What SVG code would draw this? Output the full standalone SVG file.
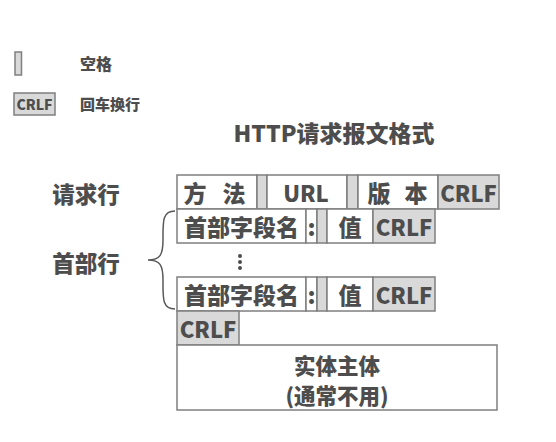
<svg xmlns="http://www.w3.org/2000/svg" width="556" height="442" viewBox="0 0 556 442">
<style>
text{font-family:"Noto Sans CJK SC","Noto Sans",sans-serif;font-weight:900;fill:#4d4d4d;text-anchor:middle;dominant-baseline:central}
.w{fill:#ffffff;stroke:#7f7f7f;stroke-width:1.5}
.g{fill:#d9d9d9;stroke:#7f7f7f;stroke-width:1.5}
.b{font-size:23px}
.c{font-size:22px}
.l{font-size:22.5px}
.s{font-size:16px;text-anchor:start}
</style>
<rect width="556" height="442" fill="#ffffff"/>
<g id="legend">
<rect class="g" x="15" y="52" width="6.5" height="23"/>
<text class="s" x="80" y="63">空格</text>
<rect class="g" x="14" y="93" width="41" height="22"/>
<text x="34.5" y="104" style="font-size:14px">CRLF</text>
<text class="s" x="80" y="103" style="font-size:15px">回车换行</text>
</g>
<g id="title"><text x="334" y="132" style="font-size:23px">HTTP请求报文格式</text></g>
<g id="label-request"><text class="l" x="86" y="193">请求行</text></g>
<g id="label-header"><text class="l" x="86" y="262">首部行</text></g>
<g id="request-line">
<rect class="w" x="177" y="175" width="80" height="34"/><text class="b" x="195" y="192">方</text><text class="b" x="234" y="192">法</text>
<rect class="g" x="257" y="175" width="10" height="34"/>
<rect class="w" x="267" y="175" width="80" height="34"/><text class="c" x="306" y="192">URL</text>
<rect class="g" x="347" y="175" width="11" height="34"/>
<rect class="w" x="358" y="175" width="80" height="34"/><text class="b" x="379" y="192">版</text><text class="b" x="416" y="192">本</text>
<rect class="g" x="438" y="175" width="61" height="34"/><text class="c" x="468.5" y="192">CRLF</text>
</g>
<g id="header-1">
<rect class="w" x="177" y="209" width="129" height="34"/><text class="b" x="241.5" y="226">首部字段名</text>
<rect class="w" x="306" y="209" width="11" height="34"/><text class="b" x="311.5" y="226">:</text>
<rect class="g" x="317" y="209" width="10" height="34"/>
<rect class="w" x="327" y="209" width="46" height="34"/><text class="b" x="350" y="226">值</text>
<rect class="g" x="373" y="209" width="62" height="34"/><text class="c" x="404" y="226">CRLF</text>
</g>
<g id="ellipsis">
<circle cx="240" cy="256" r="2" fill="#4d4d4d"/>
<circle cx="240" cy="262" r="2" fill="#4d4d4d"/>
<circle cx="240" cy="268" r="2" fill="#4d4d4d"/>
</g>
<g id="header-n">
<rect class="w" x="177" y="277" width="129" height="34"/><text class="b" x="241.5" y="294">首部字段名</text>
<rect class="w" x="306" y="277" width="11" height="34"/><text class="b" x="311.5" y="294">:</text>
<rect class="g" x="317" y="277" width="10" height="34"/>
<rect class="w" x="327" y="277" width="46" height="34"/><text class="b" x="350" y="294">值</text>
<rect class="g" x="373" y="277" width="62" height="34"/><text class="c" x="404" y="294">CRLF</text>
</g>
<g id="blank-line">
<rect class="g" x="177" y="311" width="62" height="34"/><text class="c" x="208" y="328">CRLF</text>
</g>
<g id="body">
<rect class="w" x="177" y="345" width="320" height="65"/>
<text x="337" y="364" style="font-size:21.5px">实体主体</text>
<text x="337" y="394" style="font-size:21.5px">(通常不用)</text>
</g>
<g id="connectors">
<path d="M175,211 C162,211 163,222 163,240 C163,255 160,260 148,260 C160,260 163,265 163,280 C163,298 162,309 175,309" fill="none" stroke="#595959" stroke-width="1.5"/>
</g>
</svg>
